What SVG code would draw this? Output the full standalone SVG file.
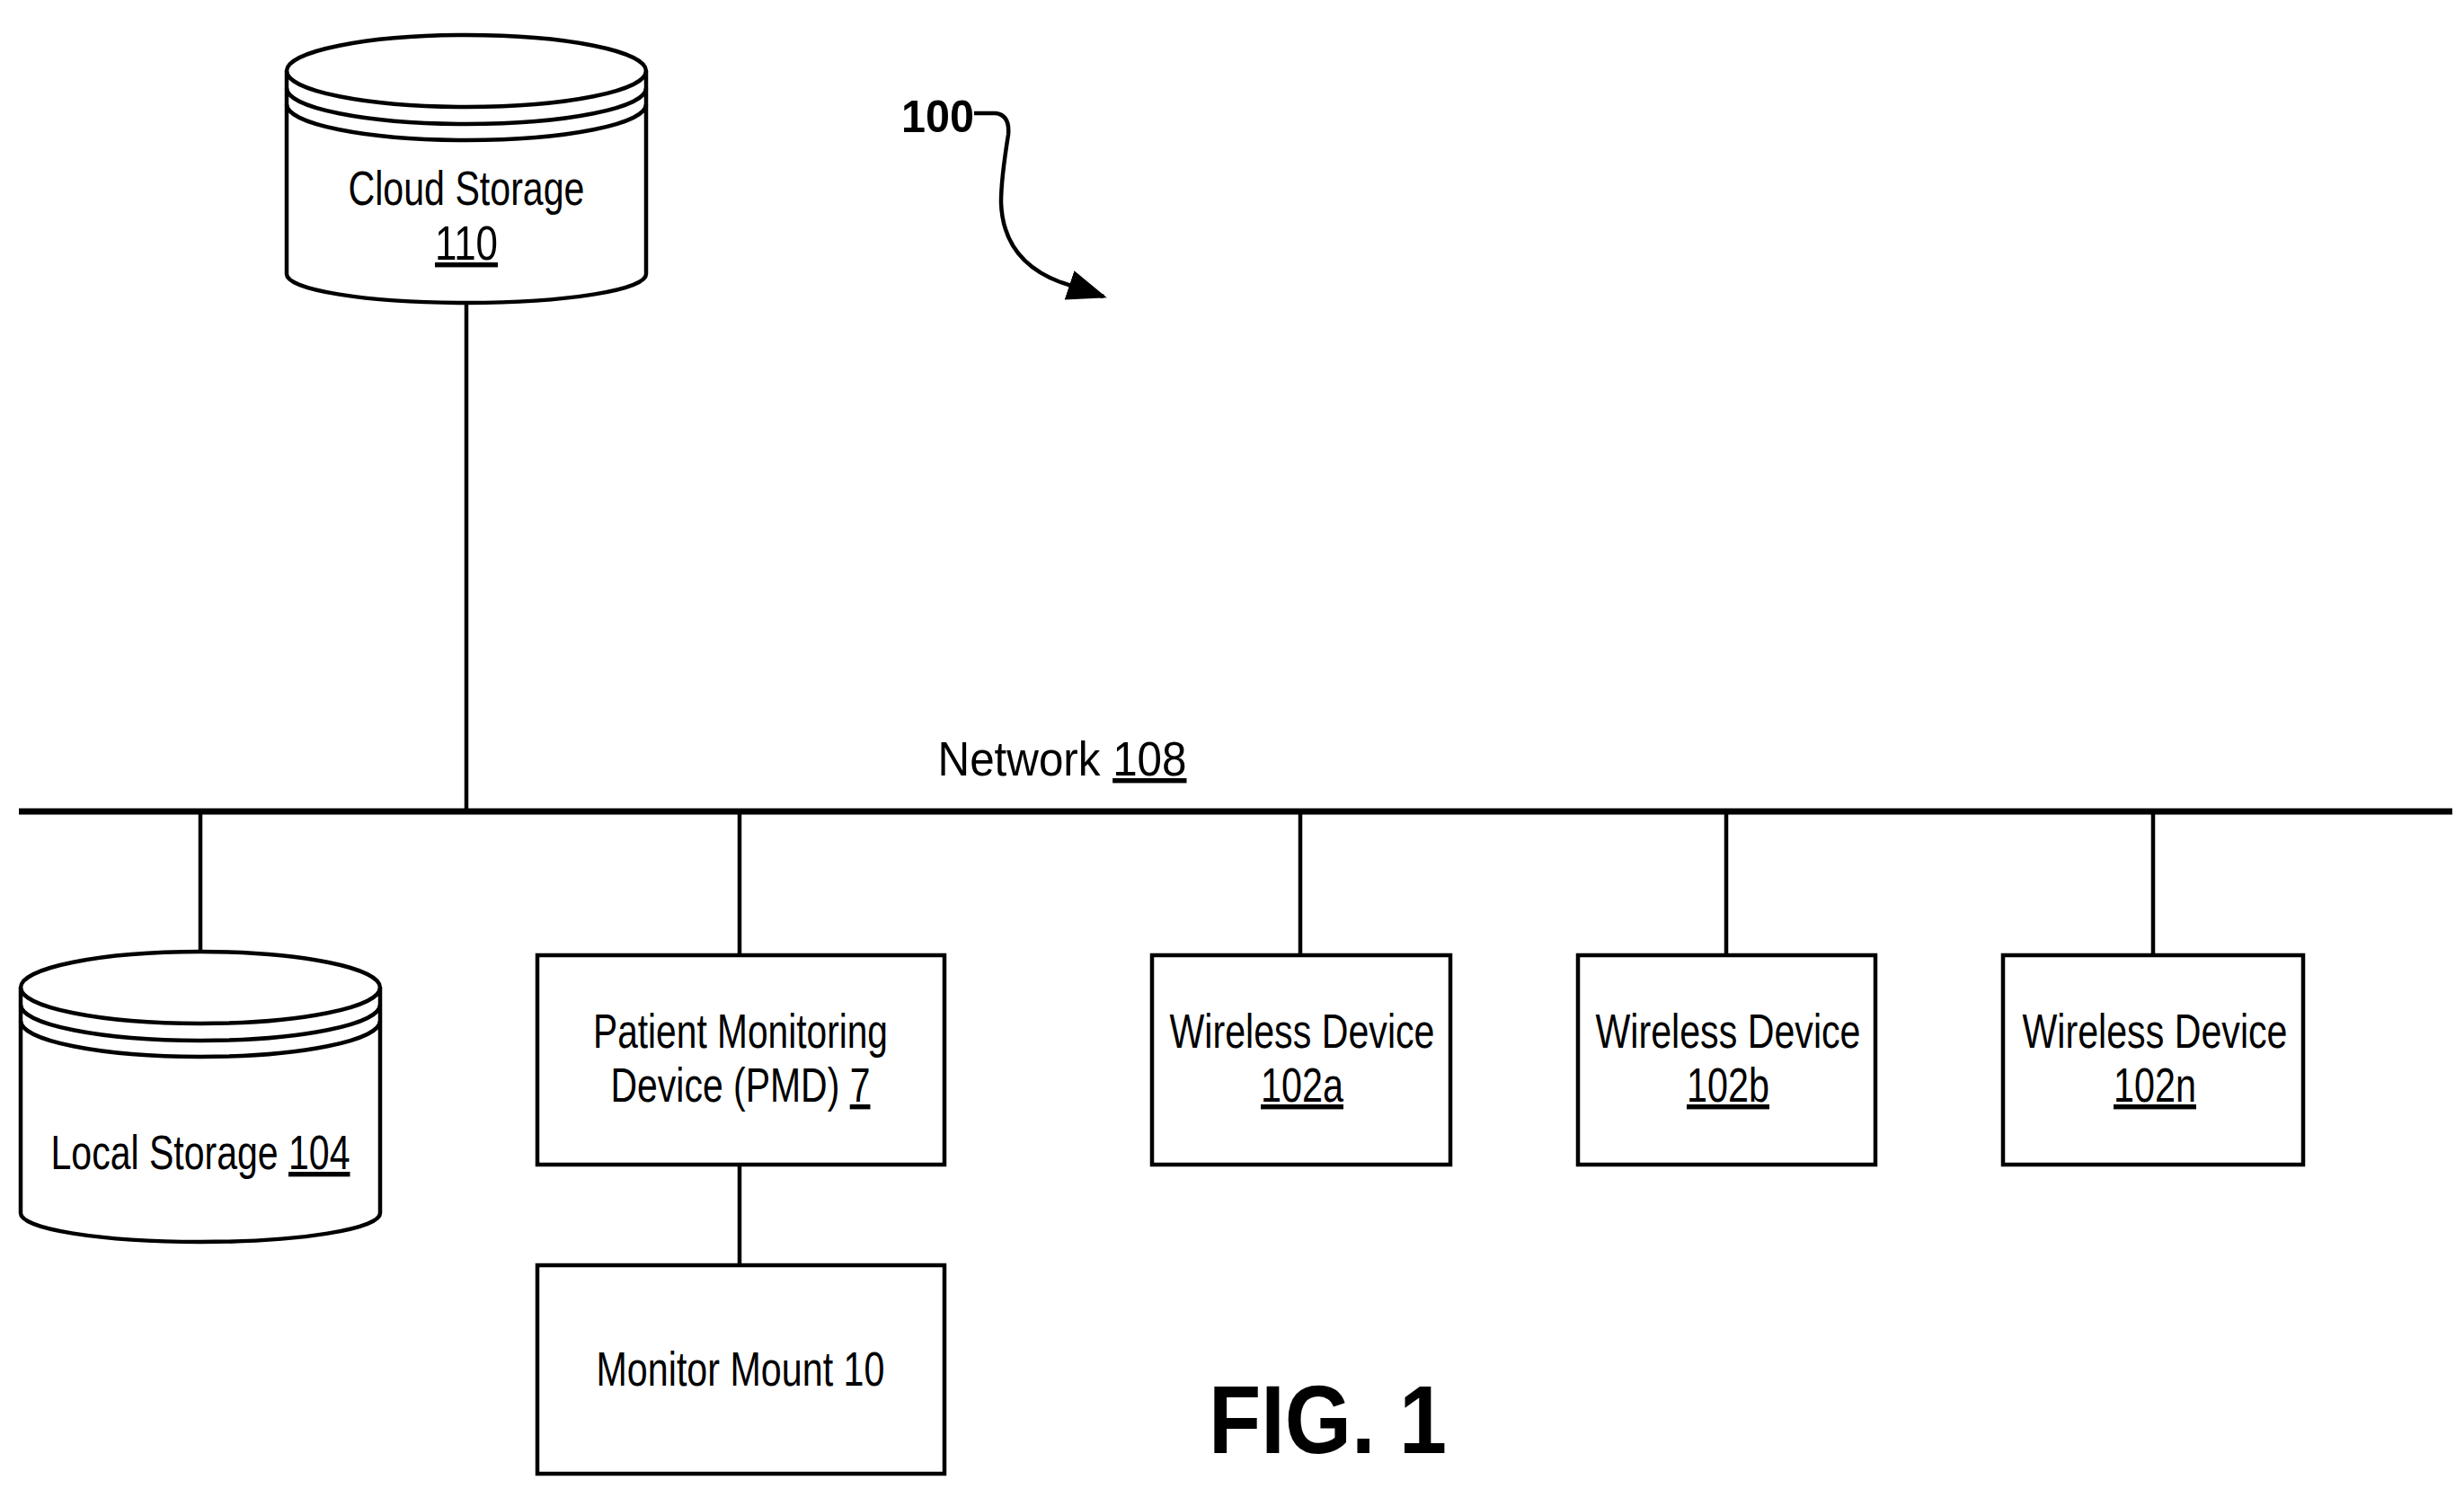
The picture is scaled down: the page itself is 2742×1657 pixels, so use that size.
<svg xmlns="http://www.w3.org/2000/svg" width="2742" height="1657" viewBox="0 0 2742 1657">
<style>
.s{fill:none;stroke:#000;stroke-width:4.5}
.b{fill:#fff;stroke:#000;stroke-width:4.5}
.t{font-family:"Liberation Sans",Arial,sans-serif;font-size:54px;text-anchor:middle;fill:#000}
.u{text-decoration:underline}
</style>
<defs><marker id="ah" markerWidth="44" markerHeight="34" refX="40" refY="17" orient="auto" markerUnits="userSpaceOnUse" viewBox="0 0 44 34"><path d="M0,0 L44,17 L0,34 z" fill="#000"/></marker></defs>
<rect width="2742" height="1657" fill="#fff"/>
<g id="connectors">
<line x1="21" y1="903" x2="2729" y2="903" stroke="#000" stroke-width="7"/>
<line class="s" x1="519" y1="337" x2="519" y2="903"/>
<line class="s" x1="223" y1="903" x2="223" y2="1059"/>
<line class="s" x1="823" y1="903" x2="823" y2="1063"/>
<line class="s" x1="823" y1="1296" x2="823" y2="1408"/>
<line class="s" x1="1447" y1="903" x2="1447" y2="1063"/>
<line class="s" x1="1921" y1="903" x2="1921" y2="1063"/>
<line class="s" x1="2396" y1="903" x2="2396" y2="1063"/>
</g>
<g id="cloud">
<path class="b" d="M319,79 A200,40 0 0 1 719,79 L719,305 A200,32 0 0 1 319,305 Z"/>
<path class="s" d="M319,79 A200,40 0 0 0 719,79 M319,98 A200,40 0 0 0 719,98 M319,116 A200,40 0 0 0 719,116"/>
<text class="t" x="519" y="228" textLength="263" lengthAdjust="spacingAndGlyphs">Cloud Storage</text>
<text class="t u" x="519" y="289" textLength="70" lengthAdjust="spacingAndGlyphs">110</text>
</g>
<g id="local">
<path class="b" d="M23,1099 A200,40 0 0 1 423,1099 L423,1350 A200,32 0 0 1 23,1350 Z"/>
<path class="s" d="M23,1099 A200,40 0 0 0 423,1099 M23,1118 A200,40 0 0 0 423,1118 M23,1136 A200,40 0 0 0 423,1136"/>
<text class="t" x="223" y="1301" textLength="333" lengthAdjust="spacingAndGlyphs">Local Storage <tspan class="u">104</tspan></text>
</g>
<g id="pmd">
<rect class="b" x="598" y="1063" width="453" height="233"/>
<text class="t" x="824" y="1166" textLength="328" lengthAdjust="spacingAndGlyphs">Patient Monitoring</text>
<text class="t" x="824" y="1226" textLength="289" lengthAdjust="spacingAndGlyphs">Device (PMD) <tspan class="u">7</tspan></text>
</g>
<g id="mount">
<rect class="b" x="598" y="1408" width="453" height="232"/>
<text class="t" x="824" y="1542" textLength="321" lengthAdjust="spacingAndGlyphs">Monitor Mount 10</text>
</g>
<g id="wd102a">
<rect class="b" x="1282" y="1063" width="332" height="233"/>
<text class="t" x="1449" y="1166" textLength="295" lengthAdjust="spacingAndGlyphs">Wireless Device</text>
<text class="t u" x="1449" y="1226" textLength="92" lengthAdjust="spacingAndGlyphs">102a</text>
</g>
<g id="wd102b">
<rect class="b" x="1756" y="1063" width="331" height="233"/>
<text class="t" x="1923" y="1166" textLength="295" lengthAdjust="spacingAndGlyphs">Wireless Device</text>
<text class="t u" x="1923" y="1226" textLength="92" lengthAdjust="spacingAndGlyphs">102b</text>
</g>
<g id="wd102n">
<rect class="b" x="2229" y="1063" width="334" height="233"/>
<text class="t" x="2398" y="1166" textLength="295" lengthAdjust="spacingAndGlyphs">Wireless Device</text>
<text class="t u" x="2398" y="1226" textLength="92" lengthAdjust="spacingAndGlyphs">102n</text>
</g>
<g id="network-label">
<text class="t" x="1182" y="863" textLength="277" lengthAdjust="spacingAndGlyphs">Network <tspan class="u">108</tspan></text>
</g>
<g id="ref100">
<text x="1003" y="147" font-family="Liberation Sans,Arial,sans-serif" font-weight="bold" font-size="50" textLength="81" lengthAdjust="spacingAndGlyphs">100</text>
<path class="s" marker-end="url(#ah)" d="M1084,126 L1108,126 Q1124,128 1122,150 Q1114,200 1114,225 Q1116,290 1180,314 L1228,330"/>
</g>
<g id="fig">
<text x="1345" y="1617" font-family="Liberation Sans,Arial,sans-serif" font-weight="bold" font-size="108" textLength="265" lengthAdjust="spacingAndGlyphs">FIG. 1</text>
</g>
</svg>
